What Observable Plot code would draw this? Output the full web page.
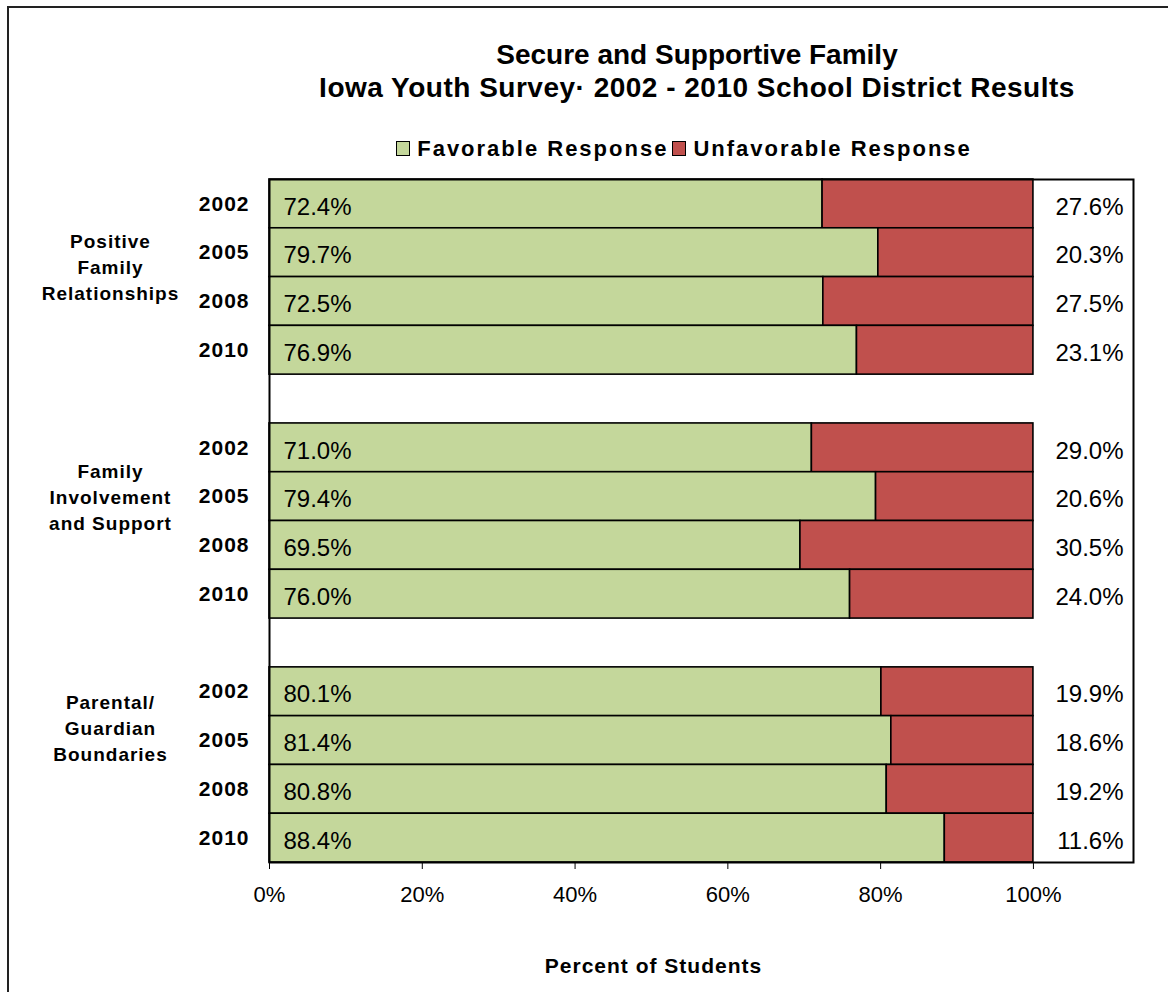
<!DOCTYPE html>
<html>
<head>
<meta charset="utf-8">
<script src="https://cdn.jsdelivr.net/npm/d3@7"></script>
<script src="https://cdn.jsdelivr.net/npm/@observablehq/plot@0.6"></script>
<style>
  html, body { margin: 0; padding: 0; background: #fff; }
  body { width: 1168px; height: 992px; overflow: hidden; position: relative; font-family: "Liberation Sans", Arial, sans-serif; }
  #border { position: absolute; left: 7px; top: 6px; width: 1200px; height: 1000px; border-left: 2px solid #222; border-top: 2px solid #222; box-sizing: border-box; }
  #header { position: relative; height: 160px; }
  #title { position: absolute; left: 0; top: 38px; width: 1394px; text-align: center; font-weight: bold; font-size: 28px; line-height: 33px; color: #000; }
  #title div + div { letter-spacing: 0.5px; }
  #legend { position: absolute; left: 0; top: 136px; width: 1364px; display: flex; justify-content: center; align-items: center; font-weight: bold; font-size: 22px; letter-spacing: 2px; line-height: 25px; color: #000; }
  .sw { display: inline-block; width: 12px; height: 13px; border: 1.5px solid #000; margin-right: 7px; margin-left: 4px; }
  #chart { position: relative; height: 832px; }
  #chart svg { display: block; }
  #chart g[font-weight="bold"] text { letter-spacing: 1px; }
</style>
</head>
<body>
<div id="border"></div>
<div id="header">
  <div id="title"></div>
  <div id="legend"></div>
</div>
<div id="chart"></div>
<script>
// ---- data ----
const titleLines = ["Secure and Supportive Family", "Iowa Youth Survey\u00B7 2002 - 2010 School District Results"];
const responses = ["Favorable Response", "Unfavorable Response"];
const colors = ["#C4D79B", "#C0504D"];
const groups = ["Positive\nFamily\nRelationships", "Family\nInvolvement\nand Support", "Parental/\nGuardian\nBoundaries"];
const years = ["2002", "2005", "2008", "2010"];
const favorable = [
  [72.4, 79.7, 72.5, 76.9],
  [71.0, 79.4, 69.5, 76.0],
  [80.1, 81.4, 80.8, 88.4]
];
const unfavorable = [
  [27.6, 20.3, 27.5, 23.1],
  [29.0, 20.6, 30.5, 24.0],
  [19.9, 18.6, 19.2, 11.6]
];
const xTicks = [0, 20, 40, 60, 80, 100];
const axisTitle = "Percent of Students";

// ---- header (title + legend) ----
document.getElementById("title").innerHTML = titleLines.map(t => `<div>${t}</div>`).join("");
document.getElementById("legend").innerHTML = responses.map((r, i) =>
  `<span class="sw" style="background:${colors[i]}"></span><span>${r}</span>`).join("");

// ---- build tables ----
const domain = [];
const rows = [];
const bars = [];
groups.forEach((g, gi) => {
  if (gi > 0) domain.push("gap" + gi);
  years.forEach((y, yi) => {
    const key = gi + "|" + y;
    domain.push(key);
    rows.push({key, group: g, gi, year: y, fav: favorable[gi][yi], unfav: unfavorable[gi][yi]});
    bars.push({key, response: responses[0], value: favorable[gi][yi]});
    bars.push({key, response: responses[1], value: unfavorable[gi][yi]});
  });
});
const groupLabels = groups.map((g, gi) => ({key: gi + "|" + years[1], label: g}));
const groupDy = [13, -1, -14];
const fmt = v => d3.format(".1f")(v) + "%";

const chart = Plot.plot({
  width: 1168,
  height: 832,
  marginTop: 19,
  marginBottom: 130,
  marginLeft: 269,
  marginRight: 35,
  style: {fontFamily: "'Liberation Sans', Arial, sans-serif", color: "#000", background: "transparent"},
  x: {domain: [0, 113.1], ticks: xTicks, tickFormat: d => d + "%", label: null},
  y: {domain, padding: 0, round: false, axis: null},
  color: {domain: responses, range: colors},
  marks: [
    Plot.barX(bars, {x: "value", y: "key", fill: "response", stroke: "#000", strokeWidth: 1.6, order: responses}),
    Plot.frame({stroke: "#000", strokeWidth: 2}),
    Plot.axisX({ticks: xTicks, tickFormat: d => d + "%", tickSize: 7, tickPadding: 17, fontSize: 22, label: null, stroke: "#000"}),
    Plot.text(rows, {x: 0, y: "key", text: d => fmt(d.fav), dx: 14, dy: 3, textAnchor: "start", fontSize: 24, fill: "#000"}),
    Plot.text(rows, {y: "key", text: d => fmt(d.unfav), frameAnchor: "right", dx: -10, dy: 3, textAnchor: "end", fontSize: 24, fill: "#000"}),
    Plot.text(rows, {y: "key", text: "year", frameAnchor: "left", dx: -20, dy: 0, textAnchor: "end", fontSize: 21, fontWeight: "bold", fill: "#000"}),
    ...groupLabels.map((d, gi) => Plot.text([d], {y: "key", text: "label", frameAnchor: "left", dx: -159, dy: groupDy[gi], textAnchor: "middle", lineAnchor: "middle", fontSize: 19, fontWeight: "bold", lineHeight: 1.37, fill: "#000"})),
    Plot.text([axisTitle], {x: 50, text: d => d, frameAnchor: "bottom", dx: 2, dy: 110, fontSize: 21, fontWeight: "bold", fill: "#000"})
  ]
});
document.getElementById("chart").appendChild(chart);
</script>
</body>
</html>
